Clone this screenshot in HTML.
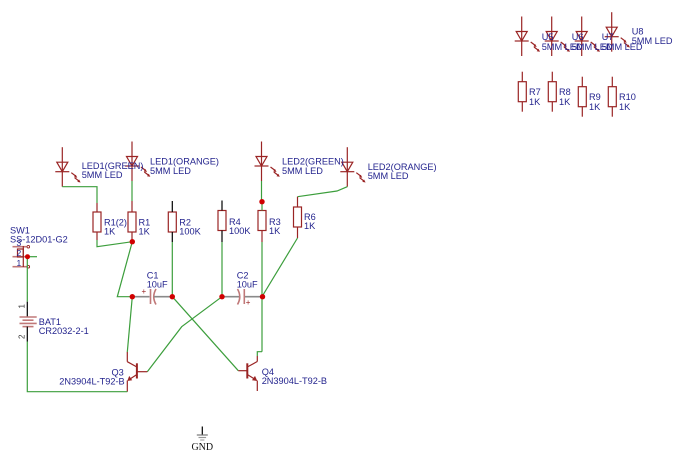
<!DOCTYPE html>
<html>
<head>
<meta charset="utf-8">
<style>
html,body{margin:0;padding:0;background:#fff;}
svg{display:block;}
text{font-family:"Liberation Sans",sans-serif;font-size:9.2px;fill:#24248e;}
.c{stroke:#9a2424;stroke-width:1.2;fill:none;}
.w{stroke:#3c9e3c;stroke-width:1.2;fill:none;}
.k{stroke:#000;stroke-width:1.2;fill:none;}
.g{stroke:#8a8a8a;stroke-width:1.6;fill:none;}
.p{stroke:#c07878;stroke-width:1.6;fill:none;}
.j{fill:#d00000;}
</style>
</head>
<body>
<svg width="683" height="466" viewBox="0 0 683 466" xmlns="http://www.w3.org/2000/svg">
<defs>
  <g id="led">
    <line class="c" x1="0" y1="-24.5" x2="0" y2="15"/>
    <polygon class="c" points="-5.5,-9.5 5.5,-9.5 0,0"/>
    <line class="c" x1="-7" y1="0" x2="7" y2="0"/>
    <line class="c" x1="9" y1="1" x2="13.5" y2="4.4"/>
    <polygon fill="#9a2424" points="15,6 11.7,5.4 13.5,3.0"/>
    <line class="c" x1="12.3" y1="6" x2="16.8" y2="9.4"/>
    <polygon fill="#9a2424" points="18.3,10.8 15,10.2 16.8,7.8"/>
  </g>
  <g id="res">
    <line class="c" x1="0" y1="-20" x2="0" y2="-10"/>
    <line class="c" x1="0" y1="10" x2="0" y2="20"/>
    <rect class="c" x="-4" y="-10" width="8" height="20"/>
  </g>
  <rect id="rb" class="c" x="-4" y="-10" width="8" height="20"/>
</defs>

<!-- Top right unplaced parts -->
<use href="#led" x="521.7" y="41"/>
<use href="#led" x="551.7" y="41"/>
<use href="#led" x="581.7" y="41"/>
<use href="#led" x="611.7" y="36.7"/>
<text x="541.7" y="40">U5</text><text x="541.7" y="50">5MM LED</text>
<text x="571.7" y="40">U6</text><text x="571.7" y="50">5MM LED</text>
<text x="601.7" y="40">U7</text><text x="601.7" y="50">5MM LED</text>
<text x="631.7" y="34.5">U8</text><text x="631.7" y="44">5MM LED</text>

<use href="#res" x="522.3" y="91.7"/>
<use href="#res" x="552.3" y="91.7"/>
<use href="#res" x="582.3" y="96.7"/>
<use href="#res" x="612.3" y="96.7"/>
<text x="529" y="95">R7</text><text x="529" y="105">1K</text>
<text x="559" y="95">R8</text><text x="559" y="105">1K</text>
<text x="589" y="100">R9</text><text x="589" y="110">1K</text>
<text x="619" y="100">R10</text><text x="619" y="110">1K</text>

<!-- LEDs in circuit -->
<use href="#led" x="62.3" y="171.7"/>
<use href="#led" x="132" y="166"/>
<use href="#led" x="261.5" y="166"/>
<use href="#led" x="347.3" y="171.7"/>
<text x="81.7" y="169">LED1(GREEN)</text><text x="81.7" y="178">5MM LED</text>
<text x="150" y="164.5">LED1(ORANGE)</text><text x="150" y="174">5MM LED</text>
<text x="282" y="164.5">LED2(GREEN)</text><text x="282" y="174">5MM LED</text>
<text x="367.7" y="170">LED2(ORANGE)</text><text x="367.7" y="179">5MM LED</text>

<!-- wires LED -> resistors -->
<polyline class="w" points="62.3,186.7 97,186.7 97,203"/>
<line class="w" x1="132" y1="181" x2="132" y2="201"/>
<line class="w" x1="261.5" y1="181" x2="261.5" y2="200.5"/>
<polyline class="w" points="347.3,186.7 337,191 297.5,196.7"/>

<!-- Resistors -->
<!-- R1(2) -->
<use href="#rb" x="97" y="222"/>
<line class="c" x1="97" y1="203" x2="97" y2="212"/>
<line class="c" x1="97" y1="232" x2="97" y2="240"/>
<!-- R1 -->
<use href="#rb" x="132" y="222"/>
<line class="c" x1="132" y1="201" x2="132" y2="212"/>
<line class="c" x1="132" y1="232" x2="132" y2="241.7"/>
<!-- R2 -->
<use href="#rb" x="172.3" y="222"/>
<line class="k" x1="172.3" y1="201" x2="172.3" y2="212"/>
<line class="k" x1="172.3" y1="232" x2="172.3" y2="242"/>
<!-- R4 -->
<use href="#rb" x="222" y="220.5"/>
<line class="k" x1="222" y1="200.5" x2="222" y2="210.5"/>
<line class="k" x1="222" y1="230.5" x2="222" y2="242"/>
<!-- R3 -->
<use href="#rb" x="262" y="220.5"/>
<line class="w" x1="262" y1="200.5" x2="262" y2="210.5"/>
<line class="c" x1="262" y1="230.5" x2="262" y2="242"/>
<!-- R6 -->
<use href="#rb" x="297.5" y="217"/>
<line class="c" x1="297.5" y1="196.7" x2="297.5" y2="207"/>
<line class="c" x1="297.5" y1="227" x2="297.5" y2="238"/>

<text x="104" y="225.5">R1(2)</text><text x="104" y="234.5">1K</text>
<text x="138.5" y="225.5">R1</text><text x="138.5" y="234.5">1K</text>
<text x="179.3" y="225.5">R2</text><text x="179.3" y="234.5">100K</text>
<text x="229" y="225">R4</text><text x="229" y="234">100K</text>
<text x="269" y="225">R3</text><text x="269" y="234">1K</text>
<text x="304" y="220">R6</text><text x="304" y="229">1K</text>

<!-- wires below resistors -->
<polyline class="w" points="97,240 97,246.7 132.3,241.7"/>
<polyline class="w" points="132.3,241.7 117.3,296.7 132.3,296.7"/>
<line class="w" x1="132.3" y1="296.7" x2="127.3" y2="352"/>
<line class="w" x1="172.3" y1="242" x2="172.3" y2="296.7"/>
<line class="w" x1="222" y1="242" x2="222" y2="296.7"/>
<line class="w" x1="262" y1="242" x2="262" y2="351.7"/>
<polyline class="w" points="297.5,238 263,295 262.5,296.7"/>
<line class="w" x1="172.3" y1="296.7" x2="238.3" y2="370.7"/>
<polyline class="w" points="222,296.7 181.7,326.7 147.3,371.7"/>
<polyline class="w" points="257.3,356 257.3,351.7 262,351.7"/>

<!-- C1 -->
<line class="g" x1="132.3" y1="296.7" x2="149.5" y2="296.7"/>
<line class="p" x1="150.5" y1="289" x2="150.5" y2="304"/>
<path class="p" d="M156,289 Q151.5,296.7 156,304.5"/>
<line class="g" x1="154" y1="296.7" x2="172.3" y2="296.7"/>
<text x="141.5" y="294" style="font-size:8px;fill:#9a2424">+</text>
<text x="146.7" y="278.3">C1</text><text x="146.7" y="287.3">10uF</text>

<!-- C2 -->
<line class="g" x1="222" y1="296.7" x2="239.5" y2="296.7"/>
<path class="p" d="M237.5,289 Q242,296.7 237.5,304.5"/>
<line class="p" x1="244.3" y1="289" x2="244.3" y2="304"/>
<line class="g" x1="245" y1="296.7" x2="262.5" y2="296.7"/>
<text x="245.8" y="305" style="font-size:8px;fill:#9a2424">+</text>
<text x="236.7" y="278.3">C2</text><text x="236.7" y="287.3">10uF</text>

<!-- Q3 -->
<line class="c" x1="127.3" y1="352" x2="127.3" y2="361.7"/>
<line x1="136.9" y1="363.3" x2="136.9" y2="378.5" stroke="#9a2424" stroke-width="2"/>
<line class="c" x1="136.9" y1="367" x2="127.3" y2="361.7"/>
<line class="c" x1="136.9" y1="374.5" x2="130" y2="379"/>
<polygon fill="#9a2424" points="127.3,381 129.2,375.9 132.2,380.2"/>
<line class="c" x1="127.3" y1="380.5" x2="127.3" y2="391.7"/>
<line class="c" x1="136.9" y1="371.7" x2="147.3" y2="371.7"/>
<text x="111.5" y="375.5">Q3</text><text x="59.3" y="384.5">2N3904L-T92-B</text>

<!-- Q4 -->
<line class="c" x1="257.3" y1="356" x2="257.3" y2="361.5"/>
<line x1="247.3" y1="363.3" x2="247.3" y2="378.5" stroke="#9a2424" stroke-width="2"/>
<line class="c" x1="247.3" y1="367" x2="257.3" y2="361.5"/>
<line class="c" x1="247.3" y1="374.5" x2="254.5" y2="379"/>
<polygon fill="#9a2424" points="257.3,381 252,380.2 255,375.9"/>
<line class="c" x1="257.3" y1="380.5" x2="257.3" y2="391"/>
<line class="c" x1="238.3" y1="370.7" x2="247.3" y2="370.7"/>
<text x="261.7" y="375">Q4</text><text x="261.7" y="384">2N3904L-T92-B</text>

<!-- Switch SW1 -->
<text x="10" y="233.5">SW1</text><text x="10" y="242.5">SS-12D01-G2</text>
<line class="p" x1="12.5" y1="246.7" x2="26.5" y2="246.7"/>
<line class="p" x1="12.5" y1="256.7" x2="26.5" y2="256.7"/>
<line class="p" x1="12.5" y1="266.7" x2="26.5" y2="266.7"/>
<line class="c" x1="23.3" y1="246" x2="23.3" y2="267"/>
<rect class="c" x="17.5" y="249" width="5.8" height="8"/>
<circle cx="28.3" cy="246.7" r="1.3" fill="none" stroke="#9a2424" stroke-width="0.9"/>
<circle cx="28.3" cy="266.7" r="1.3" fill="none" stroke="#9a2424" stroke-width="0.9"/>
<text x="16.5" y="246" style="font-size:8.5px">3</text>
<text x="16.5" y="256" style="font-size:8.5px">2</text>
<text x="16.5" y="266" style="font-size:8.5px">1</text>
<line class="w" x1="27.5" y1="256.7" x2="37" y2="256.7"/>
<line class="w" x1="27.3" y1="256.7" x2="27.3" y2="301.7"/>

<!-- Battery -->
<line class="k" x1="27.3" y1="301.7" x2="27.3" y2="317"/>
<line class="p" x1="19.5" y1="317" x2="36.7" y2="317"/>
<line class="p" x1="22.5" y1="320.2" x2="33.5" y2="320.2"/>
<line class="p" x1="19.5" y1="323.4" x2="36.7" y2="323.4"/>
<line class="p" x1="22.5" y1="326.6" x2="33.5" y2="326.6"/>
<line class="k" x1="27.3" y1="326.6" x2="27.3" y2="341.5"/>
<text transform="translate(24.5,308.5) rotate(-90)" style="font-size:8px;fill:#333">1</text>
<text transform="translate(24.5,339) rotate(-90)" style="font-size:8px;fill:#333">2</text>
<text x="38.7" y="325">BAT1</text><text x="38.7" y="334">CR2032-2-1</text>
<polyline class="w" points="27.3,341.5 27.3,391.7 127.3,391.7"/>

<!-- Junctions -->
<circle class="j" cx="132.3" cy="241.7" r="2.7"/>
<circle class="j" cx="132.3" cy="296.7" r="2.7"/>
<circle class="j" cx="172.3" cy="296.7" r="2.7"/>
<circle class="j" cx="222" cy="296.7" r="2.7"/>
<circle class="j" cx="262.5" cy="296.7" r="2.7"/>
<circle class="j" cx="262" cy="201.7" r="2.7"/>
<circle class="j" cx="27.5" cy="256.7" r="2.5"/>

<!-- GND -->
<line class="k" x1="202.3" y1="426.5" x2="202.3" y2="435"/>
<line stroke="#777" stroke-width="1.2" x1="196.8" y1="435" x2="207.8" y2="435"/>
<line stroke="#999" stroke-width="1.2" x1="198.5" y1="437.5" x2="206.1" y2="437.5"/>
<line stroke="#aaa" stroke-width="1.2" x1="200.2" y1="440" x2="204.4" y2="440"/>
<text x="202.3" y="450" text-anchor="middle" style="font-family:'Liberation Serif',serif;font-size:10px;fill:#111">GND</text>
</svg>
</body>
</html>
